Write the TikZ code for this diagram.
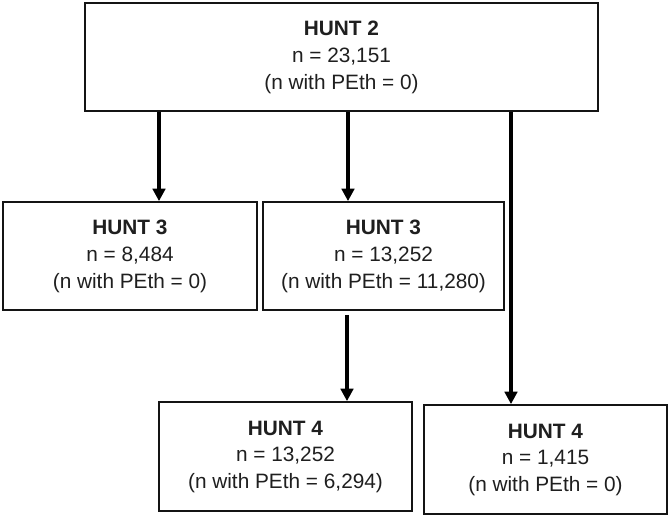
\documentclass[tikz,border=0pt]{standalone}
\usepackage{fontspec}
\setmainfont{Liberation Sans}
\usetikzlibrary{arrows.meta}
\newcommand\boxlines[3]{\raisebox{-2.5pt}{\begin{tabular}{@{}c@{}}\textbf{#1}\\#2\\#3\end{tabular}}}
\begin{document}
\begin{tikzpicture}[x=1pt,y=-1pt,
  box/.style={draw=black!92, line width=1.7pt, inner sep=0pt, align=center,
    font=\fontsize{20.8}{26.8}\selectfont, text=black!88},
  arr/.style={draw=black, line width=3.5pt, -{Triangle[width=12.5pt,length=12.5pt]}}]
\useasboundingbox (0,0) rectangle (670,516);
\fill[white] (0,0) rectangle (670,516);
\node[box, minimum width=513pt, minimum height=108pt] (h2) at (341.5,57)
  {\boxlines{HUNT 2}{n = 23,151}{(n with PEth = 0)}};
\node[box, minimum width=254pt, minimum height=108pt] (h3a) at (130,256)
  {\boxlines{HUNT 3}{n = 8,484}{(n with PEth = 0)}};
\node[box, minimum width=241pt, minimum height=108pt] (h3b) at (383.5,256)
  {\boxlines{HUNT 3}{n = 13,252}{(n with PEth = 11,280)}};
\node[box, minimum width=253pt, minimum height=109pt] (h4a) at (285.5,456.5)
  {\boxlines{HUNT 4}{n = 13,252}{(n with PEth = 6,294)}};
\node[box, minimum width=243pt, minimum height=109pt] (h4b) at (545.5,459.5)
  {\boxlines{HUNT 4}{n = 1,415}{(n with PEth = 0)}};
\coordinate (xa) at (159,0);
\coordinate (xb) at (348,0);
\coordinate (xc) at (511,0);
\coordinate (xd) at (347,0);
\draw[arr] (h2.south -| xa) -- (h3a.north -| xa);
\draw[arr] (h2.south -| xb) -- (h3b.north -| xb);
\draw[arr] (h2.south -| xc) -- (h4b.north -| xc);
\draw[arr, shorten <=4pt] (h3b.south -| xd) -- (h4a.north -| xd);
\end{tikzpicture}
\end{document}
